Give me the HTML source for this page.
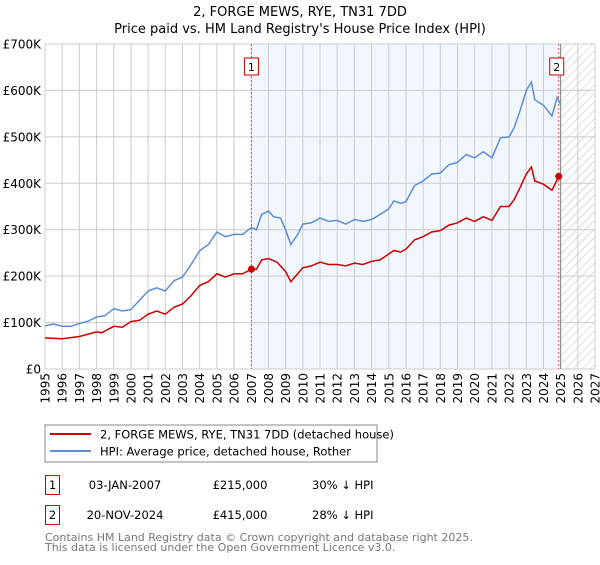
<!DOCTYPE html>
<html><head><meta charset="utf-8"><style>
body{margin:0;background:#fff;font-family:"Liberation Sans","DejaVu Sans",sans-serif;}
svg text{font-family:"DejaVu Sans","Liberation Sans",sans-serif;}
</style></head><body>
<svg id="chart" width="600" height="560" xmlns="http://www.w3.org/2000/svg">
<defs><pattern id="hatch" width="6" height="6" patternUnits="userSpaceOnUse" patternTransform="rotate(45)"><line x1="0" y1="0" x2="0" y2="6" stroke="#bbb" stroke-width="1"/></pattern></defs>
<text x="300" y="16" text-anchor="middle" font-size="13">2, FORGE MEWS, RYE, TN31 7DD</text>
<text x="300" y="33" text-anchor="middle" font-size="13">Price paid vs. HM Land Registry's House Price Index (HPI)</text>
<g id="plot"></g>
<g>
<rect x="45" y="425" width="332" height="37" fill="#fff" stroke="#888"/>
<line x1="50" y1="434" x2="91" y2="434" stroke="#cc0000" stroke-width="2"/>
<text x="100" y="438.5" font-size="11.5">2, FORGE MEWS, RYE, TN31 7DD (detached house)</text>
<line x1="50" y1="451" x2="91" y2="451" stroke="#5b8ed6" stroke-width="2"/>
<text x="100" y="455.5" font-size="11.5">HPI: Average price, detached house, Rother</text>
</g>
<g>
<rect x="45.5" y="475.5" width="14" height="19" fill="#fff" stroke="#cc0000"/>
<text x="52.5" y="489" font-size="11.5" text-anchor="middle">1</text>
<text x="125" y="489" font-size="11.5" text-anchor="middle">03-JAN-2007</text>
<text x="240" y="489" font-size="11.5" text-anchor="middle">£215,000</text>
<text x="312" y="489" font-size="11.5">30% ↓ HPI</text>
</g>
<g>
<rect x="45.5" y="505.5" width="14" height="19" fill="#fff" stroke="#cc0000"/>
<text x="52.5" y="519" font-size="11.5" text-anchor="middle">2</text>
<text x="125" y="519" font-size="11.5" text-anchor="middle">20-NOV-2024</text>
<text x="240" y="519" font-size="11.5" text-anchor="middle">£415,000</text>
<text x="312" y="519" font-size="11.5">28% ↓ HPI</text>
</g>
<text x="45" y="541" font-size="11" fill="#777">Contains HM Land Registry data © Crown copyright and database right 2025.</text>
<text x="45" y="551" font-size="11" fill="#777">This data is licensed under the Open Government Licence v3.0.</text>
</svg>
<script>
const hpiYears=[1995,1995.5,1996,1996.5,1997,1997.5,1998,1998.5,1999,1999.5,2000,2000.5,2001,2001.5,2002,2002.5,2003,2003.5,2004,2004.5,2005,2005.5,2006,2006.5,2007,2007.3,2007.6,2008,2008.3,2008.7,2009,2009.3,2009.7,2010,2010.5,2011,2011.5,2012,2012.5,2013,2013.5,2014,2014.5,2015,2015.3,2015.7,2016,2016.5,2017,2017.5,2018,2018.5,2019,2019.5,2020,2020.5,2021,2021.5,2022,2022.3,2022.6,2023,2023.3,2023.5,2024,2024.5,2024.8,2025];
const hpiValues=[93,97,92,92,98,103,112,115,130,125,128,148,168,175,168,190,198,225,255,268,295,285,290,290,305,300,333,340,328,325,300,268,290,312,315,325,318,320,312,322,318,322,333,345,362,357,360,395,405,420,422,440,445,462,455,468,455,498,500,520,552,600,618,580,568,545,585,570];
const priceYears=[1995,1996,1997,1998,1998.3,1999,1999.5,2000,2000.5,2001,2001.5,2002,2002.5,2003,2003.5,2004,2004.5,2005,2005.5,2006,2006.5,2007,2007.3,2007.6,2008,2008.5,2009,2009.3,2009.7,2010,2010.5,2011,2011.5,2012,2012.5,2013,2013.5,2014,2014.5,2015,2015.3,2015.7,2016,2016.5,2017,2017.5,2018,2018.5,2019,2019.5,2020,2020.5,2021,2021.5,2022,2022.3,2022.6,2023,2023.3,2023.5,2024,2024.5,2024.9];
const priceValues=[67,65,70,80,78,92,90,102,105,118,125,118,133,140,158,180,188,205,198,205,205,215,215,235,238,230,210,188,205,218,222,230,225,225,222,228,225,232,235,248,255,252,258,278,285,295,298,310,315,325,318,328,320,350,350,365,388,420,435,405,398,385,415];
const saleYears=[2007.01,2024.89];
const salePrices=[215,415];
const saleLabels=["1","2"];
const yTicks=[0,100,200,300,400,500,600,700];
const yTickLabels=["£0","£100K","£200K","£300K","£400K","£500K","£600K","£700K"];
const xTicks=[1995,1996,1997,1998,1999,2000,2001,2002,2003,2004,2005,2006,2007,2008,2009,2010,2011,2012,2013,2014,2015,2016,2017,2018,2019,2020,2021,2022,2023,2024,2025,2026,2027];

const L=45,R=595,T=44,B=369,X0=1995,X1=2027,YMAX=700;
const sx=v=>L+(v-X0)/(X1-X0)*(R-L);
const sy=v=>B-v/YMAX*(B-T);
const NS="http://www.w3.org/2000/svg";
const g=document.getElementById('plot');
function mk(tag,attrs,parent){const e=document.createElementNS(NS,tag);for(const k in attrs)e.setAttribute(k,attrs[k]);(parent||g).appendChild(e);return e;}

let e=mk('rect',{x:sx(saleYears[0]),y:T,width:sx(saleYears[1])-sx(saleYears[0]),height:B-T,fill:'#eef3fc',opacity:0.75});


e=mk('rect',{x:sx(2025),y:T,width:R-sx(2025),height:B-T,fill:'url(#hatch)'});


yTicks.forEach((v,i)=>{
  let l=mk('line',{x1:L,x2:R,y1:sy(v),y2:sy(v),stroke:'#ccc','stroke-width':1});
  
  
  let t=mk('text',{x:L-4,y:sy(v)+4.5,'text-anchor':'end','font-size':12});
  t.textContent=yTickLabels[i];
  
  
});
xTicks.forEach(v=>{
  let l=mk('line',{x1:sx(v),x2:sx(v),y1:T,y2:B,stroke:'#ccc','stroke-width':1});
  
  
  let t=mk('text',{x:0,y:0,'text-anchor':'end','font-size':12,transform:`translate(${sx(v)+4.5},${B+4}) rotate(-90)`});
  t.textContent=v;
  
  
});
e=mk('line',{x1:sx(2025),x2:sx(2025),y1:T,y2:B,stroke:'#888','stroke-width':1});


saleYears.forEach((yr,i)=>{
  let l=mk('line',{x1:sx(yr),x2:sx(yr),y1:T,y2:B,stroke:'#e05050','stroke-width':1,'stroke-dasharray':'2,2'});
  
  
  let r=mk('rect',{x:sx(yr)-7-(i==0?0:1)*2,y:58,width:14,height:17,fill:'#fff',stroke:'#cc0000'});
  
  
  let t=mk('text',{x:sx(yr)-(i==0?0:2),y:71,'text-anchor':'middle','font-size':11});
  t.textContent=saleLabels[i];
  
  
});
const pts=(xs,ys)=>xs.map((x,i)=>sx(x).toFixed(1)+','+sy(ys[i]).toFixed(1)).join(' ');
e=mk('polyline',{points:pts(hpiYears,hpiValues),fill:'none',stroke:'#5b8ed6','stroke-width':1.5});


e=mk('polyline',{points:pts(priceYears,priceValues),fill:'none',stroke:'#cc0000','stroke-width':1.5});


saleYears.forEach((yr,i)=>{
  let c=mk('circle',{cx:sx(yr),cy:sy(salePrices[i]),r:3.5,fill:'#cc0000'});
  
  
});
</script>
</body></html>
